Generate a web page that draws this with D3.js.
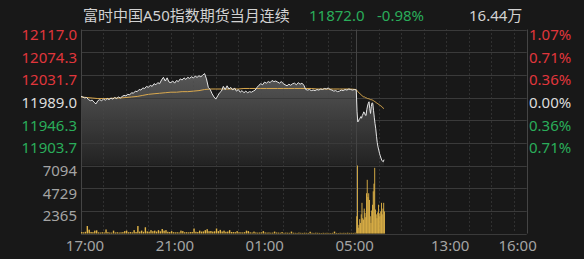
<!DOCTYPE html>
<html>
<head>
<meta charset="utf-8">
<script src="https://cdn.jsdelivr.net/npm/d3@7/dist/d3.min.js"></script>
<style>
html, body { margin: 0; padding: 0; background: #181818; }
svg { display: block; }
text { font-family: "Noto Sans", "Noto Sans CJK SC", sans-serif; }
</style>
</head>
<body>
<div id="chart"></div>
<script>
// header
const title = "富时中国A50指数期货当月连续",
    lastPrice = "11872.0",
    lastChange = "-0.98%",
    totalVol = "16.44万";

// axis labels
const priceTicks = [12117.0, 12074.3, 12031.7, 11989.0, 11946.3, 11903.7],
    pctTicks = ["1.07%", "0.71%", "0.36%", "0.00%", "0.36%", "0.71%"],
    volTicks = [7094, 4729, 2365],
    timeTicks = ["17:00", "21:00", "01:00", "05:00", "13:00", "16:00"],
    timeTickMin = [0, 240, 480, 720, 975, 1155];

const prevClose = 11989.0;

// night session 17:00-05:15, one value every 5 min
const nightPrice = [
    11991, 11990, 11988, 11989, 11985, 11983, 11984, 11980, 11977, 11983,
    11985, 11983, 11986, 11984, 11987, 11985, 11988, 11986, 11989, 11987,
    11990, 11988, 11991, 11993, 11992, 11995, 11994, 11998, 11997, 12001,
    12000, 12004, 12003, 12007, 12006, 12010, 12008, 12012, 12010, 12015,
    12013, 12017, 12015, 12022, 12027, 12020, 12026, 12018, 12017, 12020,
    12016, 12021, 12019, 12024, 12022, 12026, 12023, 12027, 12025, 12028,
    12026, 12029, 12027, 12030, 12028, 12031, 12034, 12024, 12008, 12004,
    11996, 11990, 11986, 11992, 11998, 12001, 12010, 12004, 12011, 12005,
    12008, 12003, 12007, 12001, 12004, 11999, 12002, 11998, 12001, 11998,
    12000, 11999, 12001, 12003, 12008, 12012, 12015, 12013, 12018, 12016,
    12019, 12017, 12021, 12019, 12020, 12018, 12016, 12019, 12015, 12013,
    12011, 12014, 12012, 12015, 12016, 12013, 12017, 12014, 12016, 12012,
    12004, 12003, 12004, 12002, 12003, 12002, 12004, 12003, 12005, 12004,
    12006, 12005, 12007, 12004, 12003, 12001, 12002, 12000, 12001, 12003,
    12002, 12004, 12003, 12005, 12004, 12003, 12004, 12003
];

// day session from 09:00, one value every 2 min
const dayPrice = [
    12003, 11962, 11943, 11945, 11948, 11950, 11953, 11950, 11955, 11958,
    11962, 11960, 11956, 11955, 11966, 11973, 11978, 11981, 11968, 11959,
    11972, 11979, 11978, 11965, 11952, 11940, 11930, 11916, 11904, 11896,
    11890, 11884, 11879, 11875, 11871, 11869, 11868, 11872
];

// average price, night every 15 min, day every 2 min
const nightAvg = [
    11990, 11989, 11988, 11987, 11987, 11987, 11988, 11988, 11989, 11990,
    11991, 11993, 11995, 11996, 11997, 11998, 11999, 11999, 12000, 12000,
    12001, 12002, 12004, 12005, 12005, 12005, 12005, 12005, 12005, 12006,
    12006, 12006, 12006, 12006, 12006, 12006, 12006, 12006, 12006, 12006,
    12006, 12006, 12005, 12005, 12005, 12005, 12005, 12005, 12005, 12004
];
const dayAvg = [
    12004, 12002, 12000, 11999, 11997, 11996, 11995, 11993, 11992, 11991,
    11990, 11990, 11989, 11988, 11988, 11987, 11987, 11986, 11986, 11985,
    11985, 11984, 11984, 11983, 11982, 11981, 11980, 11979, 11978, 11977,
    11976, 11975, 11974, 11973, 11972, 11970, 11969, 11968
];

// volume, same steps as the price
const nightVol = [
    150, 120, 180, 780, 400, 160, 140, 300, 330, 120,
    100, 130, 110, 420, 140, 100, 90, 300, 110, 130,
    100, 120, 140, 250, 300, 130, 150, 120, 350, 160,
    780, 200, 300, 180, 650, 220, 190, 350, 240, 300,
    200, 350, 230, 470, 300, 350, 180, 150, 250, 140,
    120, 130, 110, 300, 250, 130, 140, 120, 150, 160,
    520, 180, 150, 300, 200, 220, 350, 450, 240, 260,
    200, 230, 520, 250, 380, 210, 300, 180, 200, 350,
    160, 150, 140, 250, 130, 120, 110, 140, 300, 250,
    120, 100, 200, 110, 90, 100, 120, 250, 110, 90,
    100, 80, 90, 200, 100, 90, 80, 150, 70, 90,
    80, 70, 200, 80, 70, 60, 90, 70, 60, 80,
    70, 60, 180, 70, 60, 80, 70, 60, 50, 70,
    60, 70, 60, 50, 70, 200, 60, 50, 70, 60,
    70, 60, 80, 60, 70, 60, 80
];
const dayVol = [
    1800, 7094, 600, 900, 1500, 1100, 2000, 3200, 1600, 1450,
    2600, 2150, 1700, 4200, 5600, 3800, 4200, 3500, 1800, 1100,
    2400, 3000, 4400, 5200, 6850, 2500, 2000, 1600, 2200, 3000,
    2100, 1800, 2300, 3200, 2000, 2600, 3200, 2300
];

const width = 584,
    height = 259,
    nightLen = 735,
    red = "#e0363c",
    green = "#2aad5a",
    grey = "#a4a4a4",

    x = d3.scaleLinear().
        domain([0, 1190]).
        range([81, 526.7]),
    yP = d3.scaleLinear().
        domain([11861, 12117]).
        range([165.5, 29.5]),
    yV = d3.scaleLinear().
        domain([0, 7094]).
        range([233.5, 165.5]),

    svg = d3.select("#chart").append("svg").
        attr("width", width).
        attr("height", height);

svg.append("rect").
    attr("width", width).
    attr("height", height).
    attr("fill", "#181818");

const priceData = nightPrice.map((p, i) => ({t: i * 5, v: p})).
        concat(dayPrice.map((p, j) => ({t: nightLen + j * 2, v: p}))),
    avgData = nightAvg.map((p, k) => ({t: k * 15, v: p})).
        concat(dayAvg.map((p, j) => ({t: nightLen + j * 2, v: p}))),
    volData = nightVol.map((v, i) => ({t: i * 5, v, w: 1.4})).
        concat(dayVol.map((v, j) => ({t: nightLen + j * 2, v, w: 0.9})));

// gradient under the price line
const grad = svg.append("defs").append("linearGradient").
    attr("id", "pfill").
    attr("x1", 0).attr("y1", 0).
    attr("x2", 0).attr("y2", 1);
grad.append("stop").attr("offset", "0%").attr("stop-color", "#575757");
grad.append("stop").attr("offset", "100%").attr("stop-color", "#222");

svg.append("path").
    datum(priceData).
    attr("fill", "url(#pfill)").
    attr("d", d3.area().
        x((d) => x(d.t)).
        y0(yP(11861)).
        y1((d) => yP(d.v)));

// dotted hour lines
const hours = d3.range(60, 721, 60).concat(d3.range(795, 1156, 60));
svg.append("g").
    selectAll("line").
    data(hours).
    join("line").
    attr("x1", (d) => Math.round(x(d)) + 0.5).
    attr("x2", (d) => Math.round(x(d)) + 0.5).
    attr("y1", yP(12117)).
    attr("y2", yV(0)).
    attr("stroke", "#484848").
    attr("stroke-dasharray", "1,3");

// horizontal grid
const hLines = priceTicks.map((p) => yP(p)).
    concat([yP(11861)]).
    concat(volTicks.map((v) => yV(v)).slice(1)).
    concat([yV(0)]);
svg.append("g").
    selectAll("line").
    data(hLines).
    join("line").
    attr("x1", x(0)).
    attr("x2", x(1190)).
    attr("y1", (d) => Math.round(d) + 0.5).
    attr("y2", (d) => Math.round(d) + 0.5).
    attr("stroke", "#3a3a3a");

// panel borders and session split
svg.append("g").
    selectAll("line").
    data([0, nightLen, 1190]).
    join("line").
    attr("x1", (d) => Math.round(x(d)) + 0.5).
    attr("x2", (d) => Math.round(x(d)) + 0.5).
    attr("y1", yP(12117)).
    attr("y2", yV(0)).
    attr("stroke", "#444");

// volume bars
svg.append("g").
    selectAll("rect").
    data(volData).
    join("rect").
    attr("x", (d) => x(d.t)).
    attr("width", (d) => d.w).
    attr("y", (d) => yV(d.v)).
    attr("height", (d) => yV(0) - yV(d.v)).
    attr("fill", "#e2b548");

// average and price lines
svg.append("path").
    datum(avgData).
    attr("fill", "none").
    attr("stroke", "#d9a84e").
    attr("stroke-width", 1).
    attr("d", d3.line().x((d) => x(d.t)).y((d) => yP(d.v)));

svg.append("path").
    datum(priceData).
    attr("fill", "none").
    attr("stroke", "#e6e6e6").
    attr("stroke-width", 1).
    attr("d", d3.line().x((d) => x(d.t)).y((d) => yP(d.v)));

// left price labels
const tickColor = (p) => (p > prevClose ? red : p < prevClose ? green : "#dcdcdc");
svg.append("g").
    selectAll("text").
    data(priceTicks).
    join("text").
    attr("x", 77).
    attr("y", (d) => yP(d) + 10.5).
    attr("text-anchor", "end").
    attr("font-size", 15).
    attr("fill", tickColor).
    text((d) => d.toFixed(1));

svg.append("g").
    selectAll("text").
    data(pctTicks).
    join("text").
    attr("x", 529).
    attr("y", (d, i) => yP(priceTicks[i]) + 10.5).
    attr("font-size", 15).
    attr("fill", (d, i) => tickColor(priceTicks[i])).
    text((d) => d);

svg.append("g").
    selectAll("text").
    data(volTicks).
    join("text").
    attr("x", 77).
    attr("y", (d) => yV(d) + 10.5).
    attr("text-anchor", "end").
    attr("font-size", 15).
    attr("fill", grey).
    text((d) => d);

svg.append("g").
    selectAll("text").
    data(timeTicks).
    join("text").
    attr("x", (d, i) => x(timeTickMin[i]) + 4).
    attr("y", 251).
    attr("text-anchor", "middle").
    attr("font-size", 15).
    attr("fill", grey).
    text((d) => d);

// header
const head = svg.append("g").attr("font-size", 15);
head.append("text").attr("x", 83).attr("y", 21).attr("fill", "#d2d2d2").text(title);
head.append("text").attr("x", 309).attr("y", 21).attr("fill", green).text(lastPrice);
head.append("text").attr("x", 377).attr("y", 21).attr("fill", green).text(lastChange);
head.append("text").attr("x", 469).attr("y", 21).attr("fill", "#d2d2d2").text(totalVol);
</script>
</body>
</html>
